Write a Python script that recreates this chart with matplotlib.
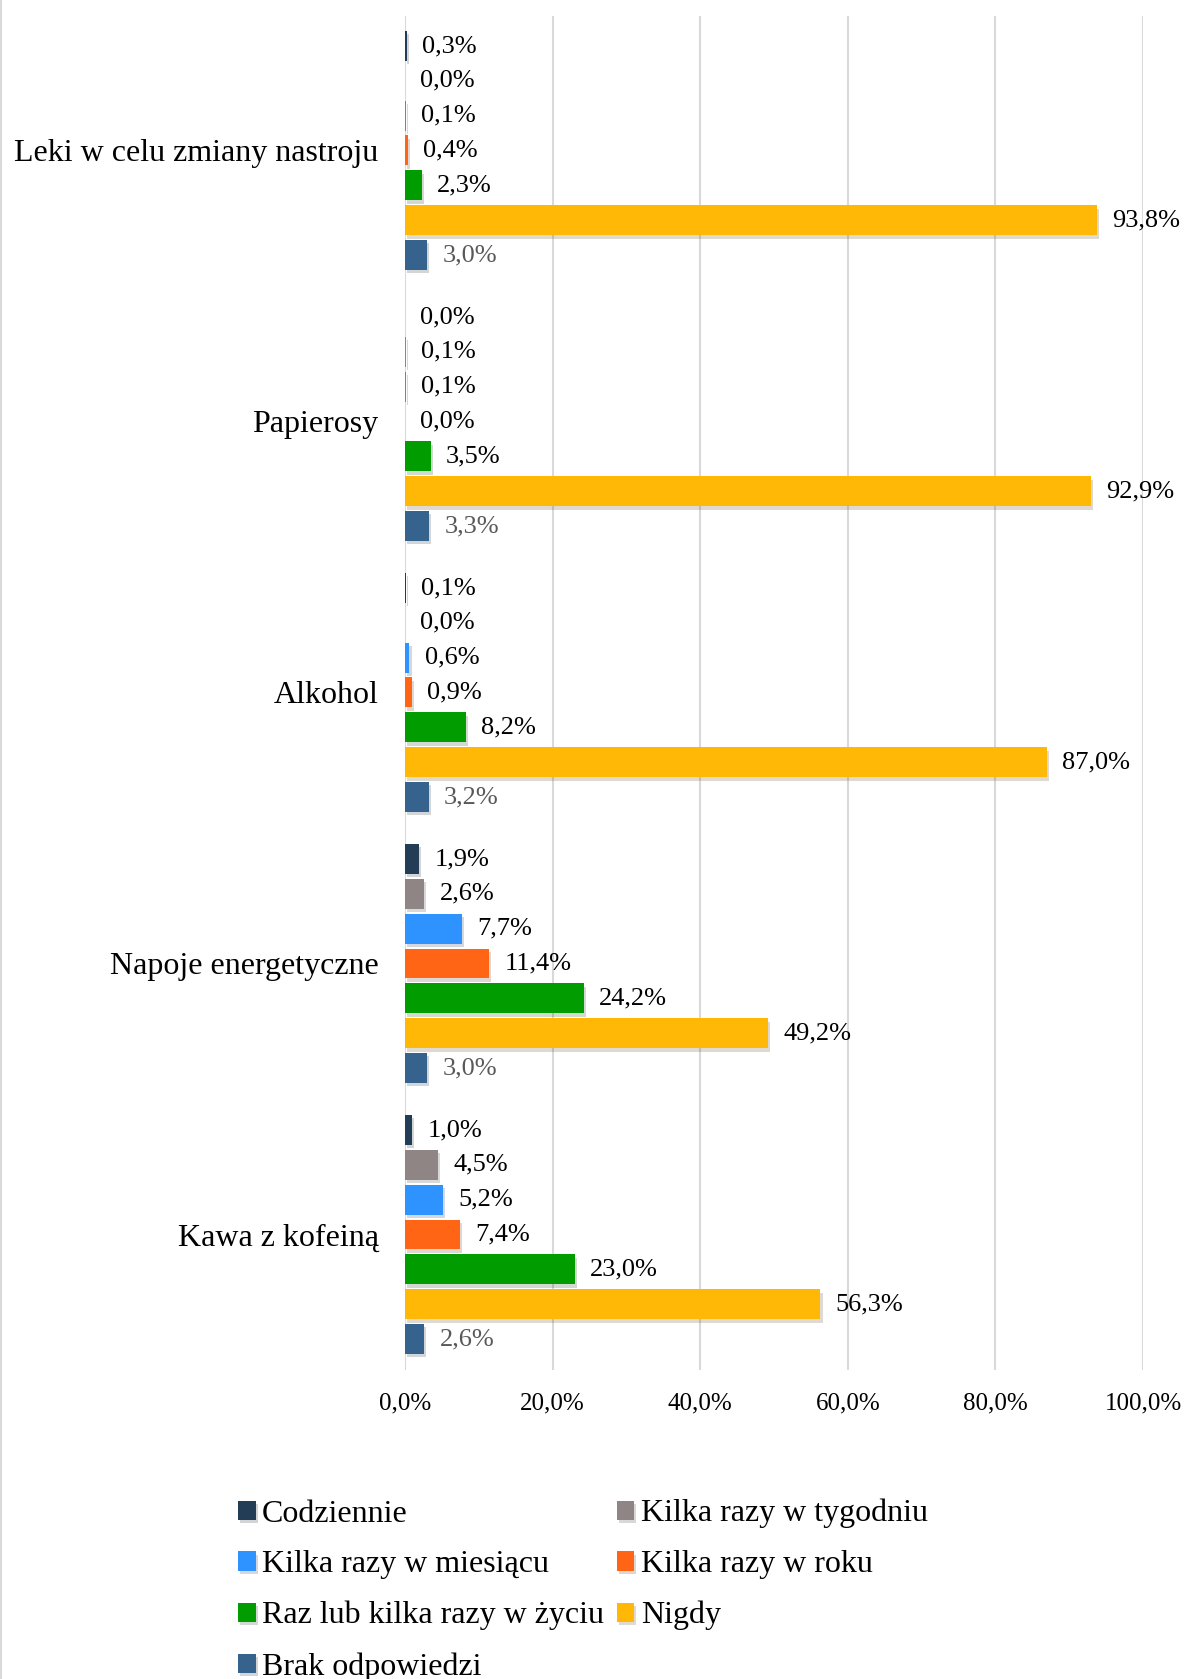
import numpy as np
import matplotlib
matplotlib.use("Agg")
import matplotlib.pyplot as plt
from matplotlib import patheffects as pe
from matplotlib.lines import Line2D

plt.rcParams['font.family'] = ['Liberation Serif', 'DejaVu Serif']

categories = ["Leki w celu zmiany nastroju", "Papierosy", "Alkohol",
              "Napoje energetyczne", "Kawa z kofeiną"]
series = ["Codziennie", "Kilka razy w tygodniu", "Kilka razy w miesiącu",
          "Kilka razy w roku", "Raz lub kilka razy w życiu", "Nigdy",
          "Brak odpowiedzi"]
codziennie = [0.3, 0.0, 0.1, 1.9, 1.0]
tygodniu = [0.0, 0.1, 0.0, 2.6, 4.5]
miesiacu = [0.1, 0.1, 0.6, 7.7, 5.2]
roku = [0.4, 0.0, 0.9, 11.4, 7.4]
w_zyciu = [2.3, 3.5, 8.2, 24.2, 23.0]
nigdy = [93.8, 92.9, 87.0, 49.2, 56.3]
brak = [3.0, 3.3, 3.2, 3.0, 2.6]
values = [codziennie, tygodniu, miesiacu, roku, w_zyciu, nigdy, brak]
colors = ["#233D57", "#8F8585", "#2E93FF", "#FF6514", "#009C00", "#FFB805", "#36628E"]
label_colors = ["black"] * 6 + ["#595959"]
x_ticks = [0, 20, 40, 60, 80, 100]

W, H = 1184, 1679
fig = plt.figure(figsize=(W / 100, H / 100), dpi=100)
ax = fig.add_axes([405 / W, 1 - 1370 / H, (1143 - 405) / W, (1370 - 16) / H])

group_pitch = 7.78
cat_pos = -np.arange(len(categories)) * group_pitch
bar_h = 0.86
for j, (vals, col) in enumerate(zip(values, colors)):
    ypos = cat_pos + (3 - j)
    bars = ax.barh(ypos, vals, height=bar_h, color=col, zorder=3, label=series[j])
    for b in bars:
        b.set_path_effects([pe.SimplePatchShadow(offset=(1.5, -2.5), alpha=0.18), pe.Normal()])
    for y, v in zip(ypos, vals):
        ax.annotate(f"{v:.1f}".replace(".", ",") + "%", (v, y), xytext=(11, 0),
                    textcoords="offset points", va="center", ha="left",
                    fontsize=19, color=label_colors[j], zorder=4)

ax.set_xlim(0, 100)
ax.set_ylim(cat_pos[-1] - 3 - 0.89, 3 + 0.86)
ax.set_yticks(cat_pos)
ax.set_yticklabels(categories, fontsize=23)
ax.set_xticks(x_ticks)
ax.set_xticklabels([f"{t:.1f}".replace(".", ",") + "%" for t in x_ticks], fontsize=18)
ax.tick_params(axis="both", length=0)
ax.tick_params(axis="y", pad=19)
ax.tick_params(axis="x", pad=16)
for s in ax.spines.values():
    s.set_visible(False)
ax.grid(axis="x", color="#D9D9D9", linewidth=1.5, zorder=0)
ax.set_axisbelow(True)

handles, labels = ax.get_legend_handles_labels()
order = [0, 2, 4, 6, 1, 3, 5]
leg = fig.legend([handles[i] for i in order], [labels[i] for i in order],
                 loc="upper left", bbox_to_anchor=(238 / W, 1 - 1499 / H),
                 ncol=2, frameon=False, fontsize=23, handlelength=0.55,
                 handleheight=0.55, handletextpad=0.2, columnspacing=0.4,
                 labelspacing=0.68, borderaxespad=0, borderpad=0)

fig.add_artist(Line2D([1 / W, 1 / W], [0, 1], transform=fig.transFigure,
                      color="#D9D9D9", linewidth=1.5))

fig.savefig("out.png", dpi=100)
